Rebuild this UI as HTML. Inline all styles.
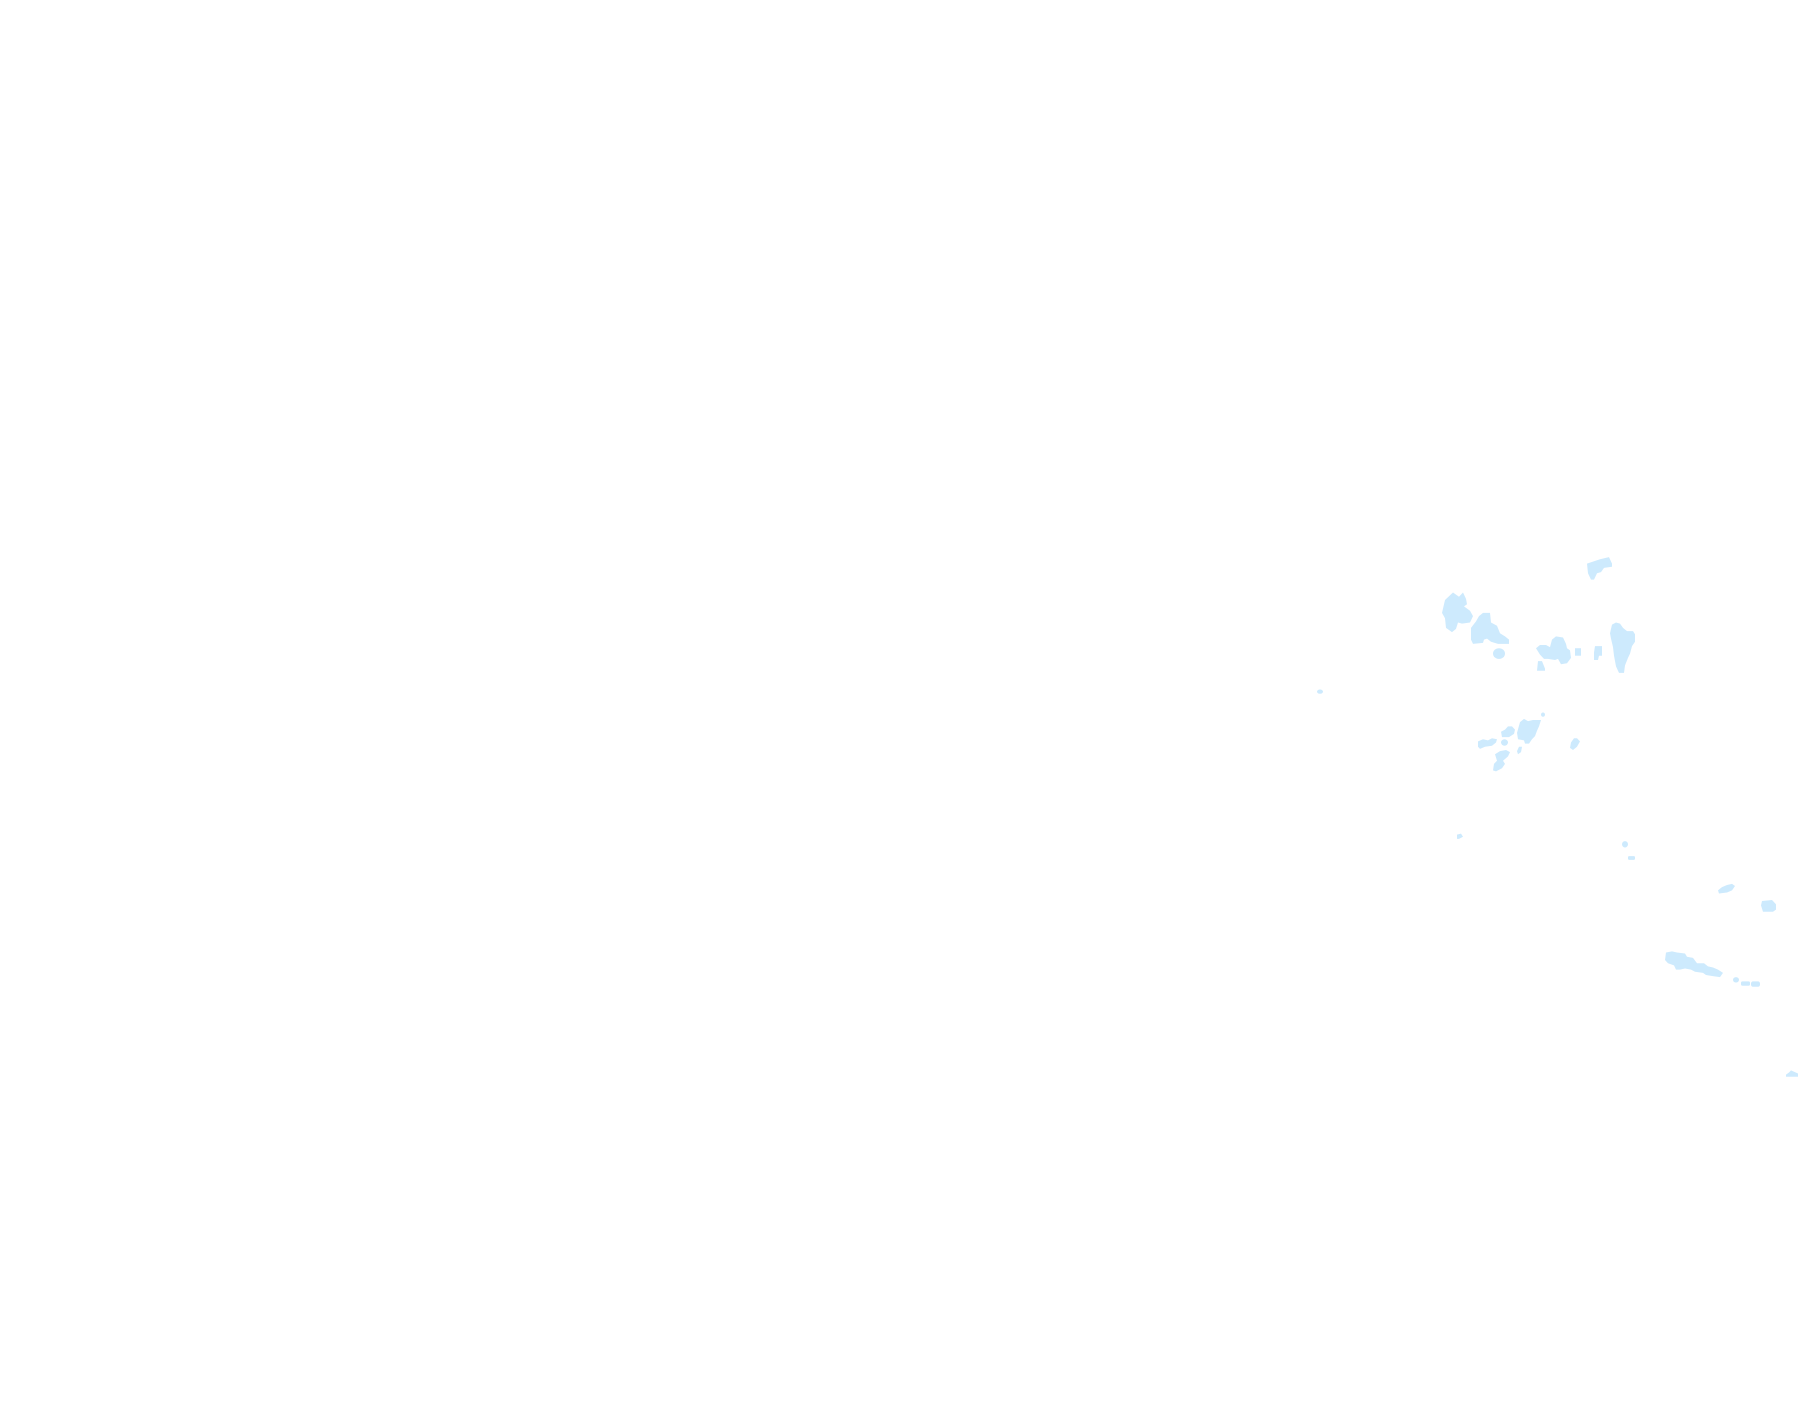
<!DOCTYPE html>
<html><head><meta charset="utf-8"><style>html,body{margin:0;padding:0;background:#fff}svg{display:block}</style></head>
<body>
<svg width="1815" height="1424" viewBox="0 0 1815 1424" xmlns="http://www.w3.org/2000/svg">
<rect width="1815" height="1424" fill="#fff"/>
<g fill="#cdeafd" transform="translate(0,540) scale(1,1.0714) translate(0,-540)">
<polygon points="1587,562 1600,558 1609,556 1612,562 1612,565 1604,566 1601,570 1597,571 1594,577 1591,577 1588,571"/>
<polygon points="1445,596 1453,589 1459,593 1463,589 1466,595 1467,600 1464,602 1470,606 1473,611 1470,617 1462,618 1458,617 1456,623 1452,626 1446,622 1445,613 1442,608"/>
<polygon points="1471,622 1476,616 1479,611 1483,608 1490,608 1491,617 1497,620 1500,627 1505,630 1509,633 1509,637 1498,637 1491,635 1487,632 1484,633 1483,636 1473,637 1471,633"/>
<ellipse cx="1499" cy="646" rx="6" ry="5"/>
<polygon points="1536,641 1540,638 1546,638 1550,640 1552,633 1556,630 1563,631 1566,637 1567,641 1570,643 1571,650 1567,655 1561,656 1558,651 1555,652 1548,651 1544,651 1540,647"/>
<polygon points="1538,653 1542,653 1545,660 1545,662 1537,662"/>
<rect x="1575" y="641" width="6" height="7"/>
<polygon points="1595,639 1602,639 1602,648 1599,648 1598,652 1594,652 1594,645"/>
<polygon points="1612,619 1616,617 1620,618 1623,622 1627,625 1633,625 1635,628 1635,635 1632,639 1630,646 1628,650 1625,657 1624,664 1619,664 1616,658 1614,648 1613,640 1611,632 1610,627"/>
<ellipse cx="1320" cy="681.5" rx="3" ry="2"/>
<polygon points="1520,710 1524,707 1528,709 1533,708 1541,708 1539,714 1537,718 1535,723 1532,726 1529,730 1525,730 1524,727 1518,726 1517,720"/>
<polygon points="1501,719 1505,717 1508,714 1512,714 1515,717 1514,721 1509,724 1502,724"/>
<polygon points="1478,728 1483,726 1488,727 1492,725 1497,726 1496,729 1492,732 1485,733 1480,735 1478,733"/>
<ellipse cx="1504.5" cy="729" rx="3.5" ry="3"/>
<polygon points="1495,740 1500,737 1506,736 1510,738 1508,742 1503,746 1505,749 1502,753 1496,756 1493,755 1494,749 1497,746"/>
<polygon points="1519,733 1522,733 1521,738 1518,740 1517,737"/>
<ellipse cx="1543" cy="703" rx="2" ry="2"/>
<polygon points="1571,729 1574,725 1577,725 1580,728 1577,733 1573,736 1570,734"/>
<polygon points="1457,815 1461,814 1463,817 1459,819 1457,819"/>
<ellipse cx="1625" cy="824" rx="3" ry="3"/>
<rect x="1628" y="835" width="7" height="3.5" rx="1"/>
<polygon points="1718,867 1722,864 1727,862 1732,861 1735,863 1732,867 1727,869 1719,870"/>
<polygon points="1762,877 1772,876 1776,880 1776,885 1773,887 1763,887 1761,881"/>
<polygon points="1666,925 1672,924 1677,925 1685,926 1687,929 1693,930 1697,935 1704,935 1708,938 1713,939 1718,941 1723,944 1720,948 1712,947 1706,946 1703,944 1695,943 1691,941 1685,940 1680,941 1676,941 1674,937 1668,935 1665,932"/>
<ellipse cx="1736" cy="950.5" rx="3" ry="2.5"/>
<rect x="1741" y="952" width="9" height="4" rx="1.5"/>
<rect x="1751" y="952" width="9" height="5" rx="2"/>
<polygon points="1786,1039 1789,1037 1791,1035 1798,1038 1798,1041 1789,1041 1786,1041"/>
</g>
</svg>
</body></html>
